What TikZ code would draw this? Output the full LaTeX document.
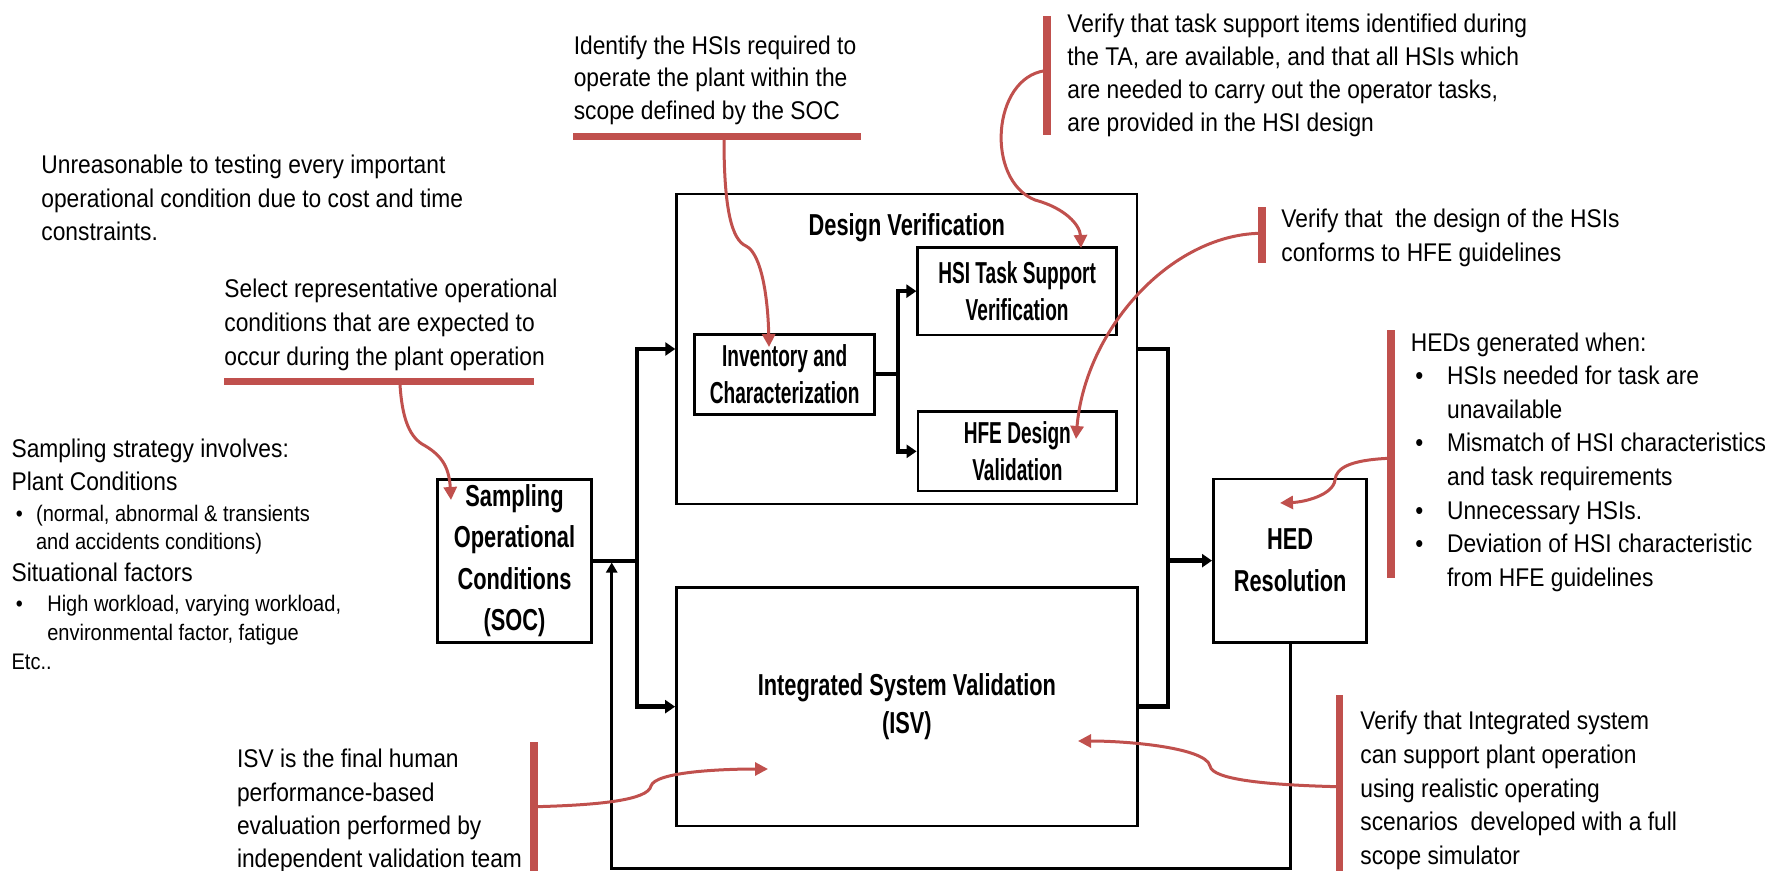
\documentclass[tikz,border=0pt]{standalone}
\usepackage{fontspec}
\setmainfont{Liberation Sans}[FakeStretch=0.89]
\newfontfamily\outerfont{Liberation Sans}[FakeStretch=0.72]
\newfontfamily\innerfont{Liberation Sans}[FakeStretch=0.63]
\usetikzlibrary{arrows.meta}
\definecolor{calloutred}{HTML}{C0504D}
\tikzset{
  note/.style={anchor=north west, inner sep=0pt, align=left, font=\fontsize{12.8pt}{16.8pt}\selectfont},
  plain/.style={anchor=base west, inner sep=0pt, font=\fontsize{12.8pt}{16.8pt}\selectfont},
  small/.style={anchor=base west, inner sep=0pt, font=\fontsize{11.25pt}{14pt}\selectfont},
  outerbox/.style={draw, line width=1.4pt, inner sep=0pt, align=center},
  outerfnt/.style={font=\outerfont\bfseries\fontsize{15.15pt}{#1}\selectfont},
  innerbox/.style={draw, line width=1.4pt, inner sep=0pt, align=center,
                   font=\innerfont\bfseries\fontsize{15.15pt}{18.35pt}\selectfont},
  wire/.style={line width=2.2pt},
  thinwire/.style={line width=1.5pt},
  flow/.style={line width=2.2pt, -{Triangle[length=5pt,width=6.5pt]}},
  callout/.style={calloutred, line width=1.5pt, -{Triangle[length=6.5pt,width=6.5pt]}},
  bar/.style={fill=calloutred, inner sep=0pt, outer sep=0pt},
}
\begin{document}
\begin{tikzpicture}[x=0.5pt,y=-0.5pt]
\useasboundingbox (0,0) rectangle (1783,871);

% ---------- process boxes ----------
\node[outerbox, minimum width=230.15pt, minimum height=155pt] (dv) at (906.85,349) {};
\node[anchor=base, inner sep=0pt, outerfnt=18pt] (dvt) at (906.85,235.5) {Design Verification};
\node[innerbox, minimum width=89.95pt, minimum height=40pt] (inv) at (784.65,374.3) {Inventory and\\Characterization};
\node[innerbox, minimum width=99.35pt, minimum height=43.85pt] (hsi) at (1017.15,291.15) {HSI Task Support\\Verification};
\node[innerbox, minimum width=99.35pt, minimum height=39.65pt] (hfe) at (1017.35,451.35) {HFE Design\\Validation};
\node[outerbox, outerfnt=20.65pt, minimum width=77.2pt, minimum height=81.5pt] (soc) at (514.5,560.8) {Sampling\\Operational\\Conditions\\(SOC)};
\node[outerbox, outerfnt=21pt, minimum width=76.7pt, minimum height=81.65pt] (hed) at (1290.1,560.65) {HED\\Resolution};
\node[outerbox, outerfnt=19.15pt, minimum width=230.4pt, minimum height=119.35pt] (isv) at (906.9,706.65) {Integrated System Validation\\(ISV)};

% ---------- flow connectors ----------
\coordinate (split) at (637,560.8);
\coordinate (merge) at (1168,560.65);
\coordinate (fork) at (898,374.3);
\coordinate (loopin) at (611.7,562.5);
\draw[wire] (soc.east) -- (split);
\draw[flow] (split) |- (dv.west);
\draw[flow] (split) |- (isv.west);
\draw[wire] (dv.east) -| (merge);
\draw[wire] (isv.east) -| (merge);
\draw[flow] (merge) -- (hed.west);
\draw[wire] (inv.east) -- (fork);
\draw[flow] (fork) |- (hsi.west);
\draw[flow] (fork) |- (hfe.west);
\draw[thinwire, -{Triangle[length=5pt,width=5.5pt]}] (hed.south) -- (1290.1,868.5) -| (loopin);

% ---------- callout markers ----------
\node[bar, minimum width=155pt, minimum height=3.6pt] (u1) at (379,381.7) {};
\node[bar, minimum width=143.9pt, minimum height=3.6pt] (u2) at (717.3,136.3) {};
\node[bar, minimum width=4pt, minimum height=59.5pt] (v3) at (1047,75.5) {};
\node[bar, minimum width=3.9pt, minimum height=28pt] (v4) at (1262,235.3) {};
\node[bar, minimum width=3.9pt, minimum height=124pt] (v5) at (1391.2,454) {};
\node[bar, minimum width=4pt, minimum height=64.65pt] (v6) at (533.9,806.35) {};
\node[bar, minimum width=3.7pt, minimum height=88pt] (v7) at (1339.4,783) {};

% ---------- callout texts ----------
\node[note] (n1) at (41,154.5) {Unreasonable to testing every important\\operational condition due to cost and time\\constraints.};
\node[note, font=\fontsize{12.8pt}{16.9pt}\selectfont] (n2) at (224,278.8) {Select representative operational\\conditions that are expected to\\occur during the plant operation};
\node[note, font=\fontsize{12.8pt}{16.25pt}\selectfont] (n3) at (573.4,35.5) {Identify the HSIs required to\\operate the plant within the\\scope defined by the SOC};
\node[note, font=\fontsize{12.8pt}{16.5pt}\selectfont] (n4) at (1067,13.2) {Verify that task support items identified during\\the TA, are available, and that all HSIs which\\are needed to carry out the operator tasks,\\are provided in the HSI design};
\node[note, font=\fontsize{12.8pt}{17pt}\selectfont] (n5) at (1281,208.8) {Verify that\ \ the design of the HSIs\\conforms to HFE guidelines};
\node[note] (n6) at (1410.4,332.2) {HEDs generated when:\\
  \hspace*{2.3pt}\makebox[15.85pt][l]{\textbullet}HSIs needed for task are\\
  \hspace*{18.15pt}unavailable\\
  \hspace*{2.3pt}\makebox[15.85pt][l]{\textbullet}Mismatch of HSI characteristics\\
  \hspace*{18.15pt}and task requirements\\
  \hspace*{2.3pt}\makebox[15.85pt][l]{\textbullet}Unnecessary HSIs.\\
  \hspace*{2.3pt}\makebox[15.85pt][l]{\textbullet}Deviation of HSI characteristic\\
  \hspace*{18.15pt}from HFE guidelines};
\node[note, font=\fontsize{12.8pt}{16.9pt}\selectfont] (n7) at (1360,710.5) {Verify that Integrated system\\can support plant operation\\using realistic operating\\scenarios\ \ developed with a full\\scope simulator};
\node[note, font=\fontsize{12.8pt}{16.65pt}\selectfont] (n8) at (236.6,748.8) {ISV is the final human\\performance-based\\evaluation performed by\\independent validation team};

% sampling strategy list
\node[plain] (s1) at (11.2,457.5) {Sampling strategy involves:};
\node[plain] (s2) at (11.2,490.9) {Plant Conditions};
\node[small] (s3b) at (15.6,521) {\textbullet};
\node[small] (s3) at (35.7,521) {(normal, abnormal \& transients};
\node[small] (s4) at (35.7,549.3) {and accidents conditions)};
\node[plain] (s5) at (11.2,581.9) {Situational factors};
\node[small] (s6b) at (15.6,611.6) {\textbullet};
\node[small] (s6) at (46.9,611.6) {High workload, varying workload,};
\node[small] (s7) at (46.9,640) {environmental factor, fatigue};
\node[small] (s8) at (11.2,669) {Etc..};

% ---------- callout arrows ----------
\coordinate (r1s) at (400,385);    \coordinate (t1) at (451,500);
\coordinate (r2s) at (724,140);    \coordinate (t2) at (769,347);
\coordinate (r3s) at (1045,70.7);  \coordinate (t3) at (1081,248);
\coordinate (r4s) at (1260,233.3); \coordinate (t4) at (1076,439);
\coordinate (r5s) at (1389,458.3); \coordinate (t5) at (1280,503);
\coordinate (r6s) at (536,806.7);  \coordinate (t6) at (768,769);
\coordinate (r7s) at (1337.5,786.7); \coordinate (t7) at (1078,741);
\draw[callout] (r1s) .. controls (402,415) and (408,435) .. (422,444) .. controls (440,454) and (449,465) .. (t1);
\draw[callout] (r2s) .. controls (724,210) and (732,240) .. (746,246) .. controls (762,254) and (768,300) .. (t2);
\draw[callout] (r3s) .. controls (992,78) and (985,180) .. (1035,200) .. controls (1065,208) and (1080,225) .. (t3);
\draw[callout] (r4s) .. controls (1170,235) and (1085,330) .. (t4);
\draw[callout] (r5s) .. controls (1350,460) and (1336,468) .. (1335,480) .. controls (1333,495) and (1305,502) .. (t5);
\draw[callout] (r6s) .. controls (600,805) and (648,800) .. (651,786) .. controls (655,772) and (720,769) .. (t6);
\draw[callout] (r7s) .. controls (1270,785) and (1212,780) .. (1210,766) .. controls (1206,748) and (1130,741) .. (t7);
\end{tikzpicture}
\end{document}
